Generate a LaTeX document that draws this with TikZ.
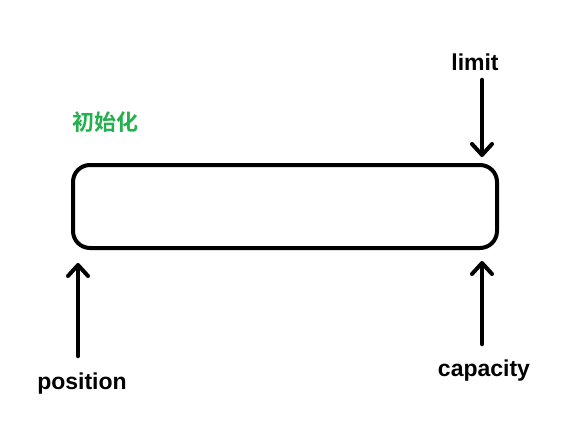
\documentclass[tikz,border=0pt]{standalone}
\usepackage{fontspec}
\setmainfont{Liberation Sans}
\newfontfamily\cjk{Noto Sans CJK SC}[BoldFont={Noto Sans CJK SC Bold}]
\usetikzlibrary{arrows.meta}

\begin{document}
\begin{tikzpicture}[x=1pt,y=-1pt,
  lbl/.style={font=\fontsize{23}{26}\selectfont\bfseries},
  ptr/.style={line width=4.5pt, line cap=round,
    -{Straight Barb[length=11pt,width=20pt,line width=4pt,round]}}]
\useasboundingbox (0,0) rectangle (583,441);

\node[lbl] (limit) at (475,62) {limit};
\node[lbl, font=\fontsize{22}{26}\selectfont\bfseries\cjk,
  text={rgb,255:red,34;green,177;blue,76}] (init) at (105,122) {初始化};
\node[lbl] (position) at (82,384) {position};
\node[lbl] (capacity) at (484,371) {capacity};

\draw[line width=4pt, rounded corners=17pt] (73,165) rectangle (497,248);

  \coordinate (lt) at (482,80);
  \coordinate (lh) at (482,157);
  \coordinate (pt) at (78,356);
  \coordinate (ph) at (78,263);
  \coordinate (ct) at (482,344);
  \coordinate (ch) at (482,261);

  \draw[ptr] (lt) -- (lh);
  \draw[ptr] (pt) -- (ph);
  \draw[ptr] (ct) -- (ch);
\end{tikzpicture}
\end{document}
